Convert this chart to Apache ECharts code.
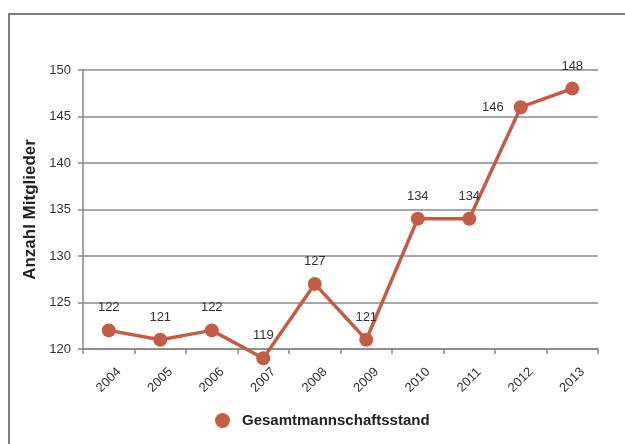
<!DOCTYPE html>
<html>
<head>
<meta charset="utf-8">
<script src="https://cdn.jsdelivr.net/npm/echarts@6/dist/echarts.min.js"></script>
<style>html,body{margin:0;padding:0;background:#fff;}#c{width:625px;height:444px;}</style>
</head>
<body>
<div id="c"></div>
<script>
const years = ['2004','2005','2006','2007','2008','2009','2010','2011','2012','2013'];
const members = [122, 121, 122, 119, 127, 121, 134, 134, 146, 148];
const seriesName = 'Gesamtmannschaftsstand';
const yAxisTitle = 'Anzahl Mitglieder';
const yMin = 120, yMax = 150, yStep = 5;

const chart = echarts.init(document.getElementById('c'));
const font = 'Liberation Sans, Arial, sans-serif';
chart.setOption({
  animation: false,
  textStyle: {fontFamily: font},
  graphic: [{
    type: 'rect', shape: {x: 9, y: 14, width: 640, height: 460},
    style: {fill: 'none', stroke: '#555', lineWidth: 1.5}, silent: true
  }],
  grid: {left: 83, right: 27, top: 70, bottom: 95},
  legend: {
    top: 408, left: 210, icon: 'circle', itemWidth: 15, itemHeight: 15,
    textStyle: {fontFamily: font, fontWeight: 'bold', fontSize: 15, color: '#222', padding: [0, 0, 0, 7]},
    data: [seriesName]
  },
  xAxis: {
    type: 'category', data: years, boundaryGap: true,
    axisLine: {lineStyle: {color: '#888', width: 1.5}},
    axisTick: {show: true, length: 5, lineStyle: {color: '#888', width: 1.5}},
    axisLabel: {rotate: 45, fontSize: 13, color: '#333', margin: 31, align: 'center', verticalAlign: 'middle', fontFamily: font}
  },
  yAxis: {
    type: 'value', min: yMin, max: yMax, interval: yStep,
    name: yAxisTitle, nameLocation: 'middle', nameGap: 41,
    nameTextStyle: {fontFamily: font, fontWeight: 'bold', fontSize: 17, color: '#222'},
    axisLine: {show: true, lineStyle: {color: '#888', width: 1.5}},
    axisTick: {show: true, length: 5, lineStyle: {color: '#888', width: 1.5}},
    axisLabel: {fontSize: 13, color: '#333', margin: 12, fontFamily: font},
    splitLine: {lineStyle: {color: '#8a8a8a', width: 1.5}}
  },
  series: [{
    name: seriesName, type: 'line', clip: false,
    data: members.map((v, i) => i === 8 ? {value: v, label: {position: 'left', distance: 10}} : v),
    symbol: 'circle', symbolSize: 14,
    lineStyle: {color: '#c25e48', width: 3.5},
    itemStyle: {color: '#c25e48'},
    label: {show: true, position: 'top', distance: 9, fontSize: 13, color: '#333', fontFamily: font}
  }]
});
</script>
</body>
</html>
